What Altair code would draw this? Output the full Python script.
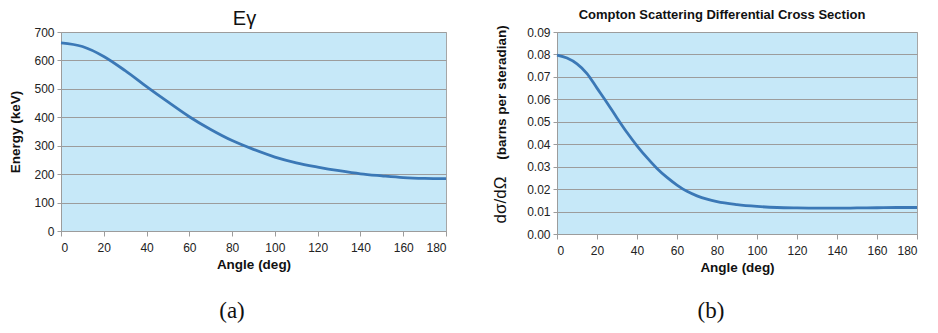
import altair as alt
import pandas as pd

# ---- data ----
angle_a = [0, 10, 20, 30, 40, 50, 60, 70, 80, 90, 100, 110, 120, 130, 140, 150, 160, 170, 180]
energy_kev = [662, 649, 614, 564, 508, 454, 402, 357, 318, 287, 260, 240, 225, 212, 201, 194, 188, 185, 184]

angle_b = [0, 5, 10, 15, 20, 25, 30, 35, 40, 45, 50, 55, 60, 65, 70, 75, 80,
           90, 100, 110, 120, 130, 140, 150, 160, 170, 180]
cross_section = [0.0797, 0.0784, 0.0758, 0.0715, 0.0650, 0.0585, 0.0517, 0.0452, 0.0393,
                 0.0340, 0.0292, 0.0252, 0.0218, 0.0190, 0.0170, 0.0155, 0.0144,
                 0.0131, 0.0123, 0.0118, 0.0116, 0.0115, 0.0115, 0.0116, 0.0117, 0.0118, 0.0118]

x_ticks = [0, 20, 40, 60, 80, 100, 120, 140, 160, 180]
energy_ticks = [0, 100, 200, 300, 400, 500, 600, 700]
xs_ticks = [0.00, 0.01, 0.02, 0.03, 0.04, 0.05, 0.06, 0.07, 0.08, 0.09]

captions = ["(a)", "(b)"]
title_a = "Eγ"
title_b = "Compton Scattering Differential Cross Section"

# ---- style ----
BG = "#C6E8F8"
GRID = "#9C9C9C"
LINE = "#3B78B6"
FONT = "Liberation Sans"
SERIF = "Liberation Serif"

df_a = pd.DataFrame({"angle": angle_a, "energy": energy_kev})
df_b = pd.DataFrame({"angle": angle_b, "xs": cross_section})


def x_axis():
    return alt.Axis(values=x_ticks, title="Angle (deg)", grid=False, tickSize=5,
                    tickColor=GRID, domainColor=GRID, labelFontSize=12, labelColor="#222",
                    labelPadding=6, titleFontSize=13.5, titleFontWeight="bold",
                    titleColor="#111", titlePadding=4, labelFont=FONT, titleFont=FONT)


line_a = alt.Chart(df_a).mark_line(color=LINE, strokeWidth=2.8, interpolate="monotone").encode(
    x=alt.X("angle:Q", scale=alt.Scale(domain=[0, 180], nice=False), axis=x_axis()),
    y=alt.Y("energy:Q", scale=alt.Scale(domain=[0, 700], nice=False),
            axis=alt.Axis(values=energy_ticks, title="Energy (keV)", grid=True,
                          gridColor=GRID, gridWidth=1, tickSize=4, tickColor=GRID,
                          domainColor=GRID, labelFontSize=12, labelColor="#222",
                          labelPadding=3, titleFontSize=13.5, titleFontWeight="bold",
                          titleColor="#111", titlePadding=11, labelFont=FONT, titleFont=FONT)),
)
cap_a = alt.Chart(pd.DataFrame({"t": [captions[0]]})).mark_text(
    font=SERIF, fontSize=23, color="#111", align="center", baseline="middle"
).encode(text="t:N", x=alt.value(171), y=alt.value(279))

left = alt.layer(line_a, cap_a).properties(
    width=385, height=199,
    title=alt.TitleParams(title_a, fontSize=20, fontWeight="normal", font=FONT,
                          color="#111", offset=-3, dx=-9),
)

line_b = alt.Chart(df_b).mark_line(color=LINE, strokeWidth=2.8, interpolate="monotone").encode(
    x=alt.X("angle:Q", scale=alt.Scale(domain=[0, 180], nice=False), axis=x_axis()),
    y=alt.Y("xs:Q", scale=alt.Scale(domain=[0, 0.09], nice=False),
            axis=alt.Axis(values=xs_ticks, format=".2f", title="(barns per steradian)",
                          grid=True, gridColor=GRID, gridWidth=1, tickSize=4,
                          tickColor=GRID, domainColor=GRID, labelFontSize=12,
                          labelColor="#222", labelPadding=3, titleFontSize=13.5,
                          titleFontWeight="bold", titleColor="#111", titleX=-56,
                          titleY=60, titleAlign="center", titleBaseline="middle",
                          titleAngle=270, labelFont=FONT, titleFont=FONT)),
)
sym_b = alt.Chart(pd.DataFrame({"t": ["dσ/dΩ"]})).mark_text(
    font=FONT, fontSize=17, color="#111", angle=270, align="center", baseline="middle"
).encode(text="t:N", x=alt.value(-56), y=alt.value(168))
cap_b = alt.Chart(pd.DataFrame({"t": [captions[1]]})).mark_text(
    font=SERIF, fontSize=23, color="#111", align="center", baseline="middle"
).encode(text="t:N", x=alt.value(154), y=alt.value(279))

right = alt.layer(line_b, sym_b, cap_b).properties(
    width=360, height=202,
    title=alt.TitleParams(title_b, fontSize=13, fontWeight="bold", font=FONT,
                          color="#111", offset=3, dx=-15),
)

chart = alt.hconcat(left, right, spacing=38).properties(
    padding={"left": 0, "top": 0, "right": 0, "bottom": 0}
).configure_view(fill=BG, stroke="#A6A6A6")

chart.save("out.html", embed_options={"renderer": "svg", "actions": False})
